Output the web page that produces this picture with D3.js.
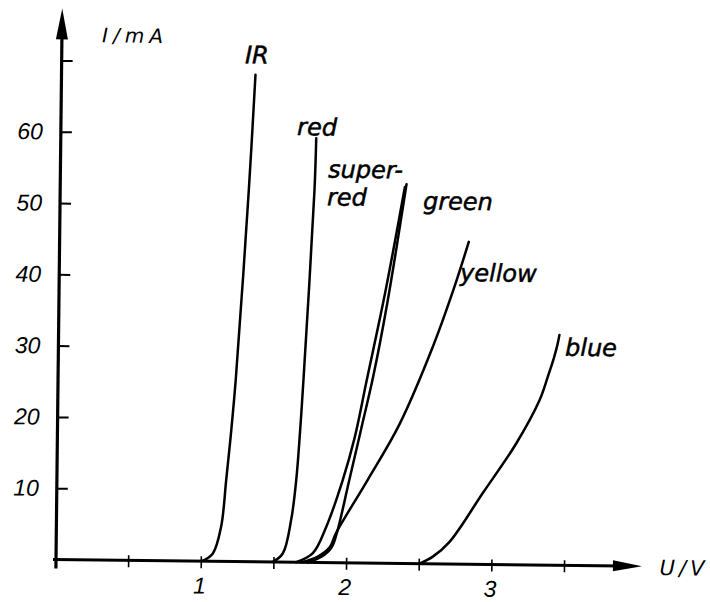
<!DOCTYPE html>
<meta charset="utf-8">
<title>LED current-voltage characteristics</title>
<style>
body { margin:0; background:#fff; }
svg { display:block; background:#fff; }
.tick-label { font: italic 23px "Liberation Sans", sans-serif; fill:#000; }
.axis-title { font: oblique 20px "DejaVu Sans", sans-serif; fill:#000; letter-spacing:5px; }
.curve-label { font: oblique 24px "DejaVu Sans", sans-serif; fill:#000; stroke:#000; stroke-width:0.5px; }
</style>
<svg width="710" height="602"></svg>
<script src="https://d3js.org/d3.v7.min.js"></script>
<script>

// U in volts, I in mA
var irU     = [1.006, 1.079, 1.134, 1.165, 1.196, 1.223, 1.298, 1.335],
    irI     = [0, 1.1, 4.9, 11.4, 18.4, 25.5, 52.1, 68.3];
var redU    = [1.492, 1.560, 1.615, 1.647, 1.670, 1.689, 1.750, 1.758],
    redI    = [0, 1.2, 5.9, 11.5, 18.5, 25.6, 52.2, 59.5];
var superU  = [1.653, 1.767, 1.857, 1.967, 2.045, 2.125, 2.245, 2.372],
    superI  = [0, 1.3, 5.0, 11.6, 17.5, 25.7, 38.0, 52.8];
var greenU  = [1.733, 1.827, 1.895, 1.930, 2.010, 2.090, 2.170, 2.260, 2.383],
    greenI  = [0, 0.8, 2.1, 4.1, 11.4, 18.8, 26.3, 36.5, 53.2];
var yellowU = [1.690, 1.799, 1.881, 1.926, 2.137, 2.353, 2.576, 2.721, 2.816],
    yellowI = [0, 0.8, 2.1, 4.2, 11.6, 19.5, 30.4, 38.9, 45.2];
var blueU   = [2.502, 2.593, 2.707, 2.932, 3.158, 3.315, 3.370, 3.410, 3.435, 3.447],
    blueI   = [0, 1.0, 3.1, 10.0, 17.0, 23.1, 26.4, 29.0, 31.0, 32.3];

var yTicks = [10, 20, 30, 40, 50, 60, 70],
    yTickLabels = ["10", "20", "30", "40", "50", "60", ""];
var xTicks = [0.5, 1, 1.5, 2, 2.5, 3, 3.5],
    xTickLabels = ["", "1", "", "2", "", "3", ""];

var curves = [
  {name: "IR",        u: irU,     i: irI},
  {name: "red",       u: redU,    i: redI},
  {name: "super-red", u: superU,  i: superI},
  {name: "green",     u: greenU,  i: greenI},
  {name: "yellow",    u: yellowU, i: yellowI},
  {name: "blue",      u: blueU,   i: blueI}
];

var svg = d3.select("svg");

var x = d3.scaleLinear().domain([0, 4]).range([56, 56 + 4 * 145.3]),
    y = d3.scaleLinear().domain([0, 70]).range([559.5, 559.5 - 499.1]);

// the scan is tilted a little clockwise
var g = svg.append("g")
    .attr("transform", "rotate(0.65," + x(0) + "," + y(0) + ")");

var yAxisTop = 77.3, xAxisEnd = 4.033;

// y axis with arrow
g.append("line")
    .attr("x1", x(0)).attr("x2", x(0))
    .attr("y1", y(0) + 9).attr("y2", y(yAxisTop) + 20)
    .attr("stroke", "#000").attr("stroke-width", 3.2);
g.append("path")
    .attr("d", "M" + x(0) + "," + y(yAxisTop) +
               "L" + (x(0) - 6) + "," + (y(yAxisTop) + 31) +
               "L" + (x(0) + 6) + "," + (y(yAxisTop) + 31) + "Z")
    .attr("fill", "#000");

// x axis with arrow
g.append("line")
    .attr("x1", x(0) - 3).attr("x2", x(xAxisEnd) - 20)
    .attr("y1", y(0)).attr("y2", y(0))
    .attr("stroke", "#000").attr("stroke-width", 3);
g.append("path")
    .attr("d", "M" + x(xAxisEnd) + "," + y(0) +
               "L" + (x(xAxisEnd) - 29) + "," + (y(0) - 5.5) +
               "L" + (x(xAxisEnd) - 29) + "," + (y(0) + 5.5) + "Z")
    .attr("fill", "#000");

// y ticks (to the right) and labels (to the left)
var yAx = g.append("g")
    .attr("transform", "translate(" + x(0) + ",0)")
    .call(d3.axisRight(y).tickValues(yTicks).tickSize(11).tickFormat(""));
yAx.select(".domain").remove();
yAx.selectAll("line").attr("stroke-width", 2);

var yLab = g.append("g")
    .attr("transform", "translate(" + x(0) + ",0)")
    .call(d3.axisLeft(y).tickValues(yTicks).tickSize(0).tickPadding(18)
      .tickFormat(function(d, i) { return yTickLabels[i]; }));
yLab.select(".domain").remove();
yLab.selectAll("text").attr("class", "tick-label");

// x ticks cross the axis
g.selectAll(".xtick")
  .data(xTicks)
  .join("line")
    .attr("class", "xtick")
    .attr("x1", function(d) { return x(d); })
    .attr("x2", function(d) { return x(d); })
    .attr("y1", y(0) - 5)
    .attr("y2", y(0) + 7)
    .attr("stroke", "#000")
    .attr("stroke-width", 1.6);

var xLab = g.append("g")
    .attr("transform", "translate(-2," + y(0) + ")")
    .call(d3.axisBottom(x).tickValues(xTicks).tickSize(0).tickPadding(16)
      .tickFormat(function(d, i) { return xTickLabels[i]; }));
xLab.select(".domain").remove();
xLab.selectAll("text").attr("class", "tick-label");

// axis titles
g.append("text").attr("class", "axis-title")
    .attr("x", x(0.277)).attr("y", y(72.6))
    .text("I/mA");
g.append("text").attr("class", "axis-title")
    .attr("x", x(4.155)).attr("y", y(-1.22))
    .style("font-size", "21px")
    .style("letter-spacing", "4px")
    .text("U/V");

// curves
var line = d3.line()
    .x(function(d) { return x(d[0]); })
    .y(function(d) { return y(d[1]); })
    .curve(d3.curveCatmullRom.alpha(0.5));

g.selectAll(".curve")
  .data(curves)
  .join("path")
    .attr("class", "curve")
    .attr("d", function(d) { return line(d3.zip(d.u, d.i)); })
    .attr("fill", "none")
    .attr("stroke", "#000")
    .attr("stroke-width", 2.5)
    .attr("stroke-linecap", "round")
    .attr("stroke-linejoin", "round");

// curve labels, anchored in data units
var labels = [
  {t: "IR",     u: 1.262, i: 69.9},
  {t: "red",    u: 1.626, i: 59.9},
  {t: "super-", u: 1.842, i: 54.0},
  {t: "red",    u: 1.837, i: 50.1},
  {t: "green",  u: 2.498, i: 49.7},
  {t: "yellow", u: 2.759, i: 39.7},
  {t: "blue",   u: 3.487, i: 29.4}
];
g.selectAll(".curve-label")
  .data(labels)
  .join("text")
    .attr("class", "curve-label")
    .attr("x", function(d) { return x(d.u); })
    .attr("y", function(d) { return y(d.i); })
    .text(function(d) { return d.t; });

</script>
